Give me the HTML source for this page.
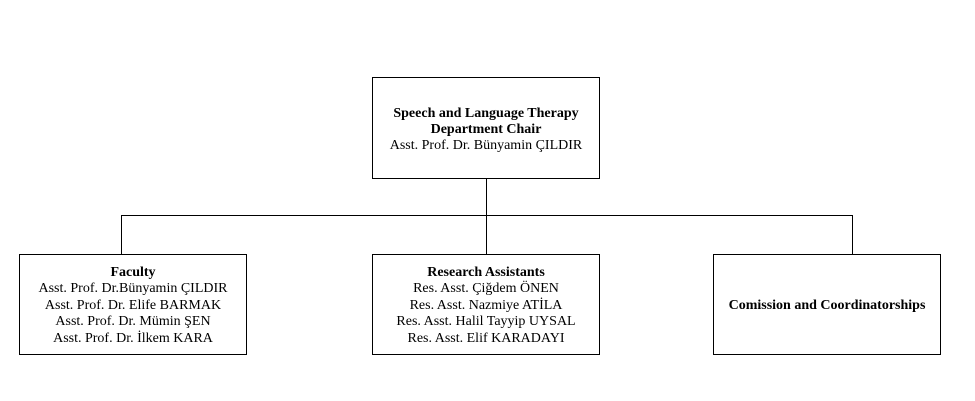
<!DOCTYPE html>
<html><head><style>
body{margin:0;width:975px;height:401px;background:#fff;position:relative;overflow:hidden;font-family:"Liberation Serif",serif;font-size:14px;color:#000}
.b{position:absolute;border:1px solid #000;box-sizing:border-box;display:flex;flex-direction:column;justify-content:center;align-items:center;text-align:center;line-height:16.5px;white-space:nowrap;padding-top:3px}
.l{position:absolute;background:#000}
b{font-weight:bold}
</style></head><body>
<div class="b" style="left:372px;top:77px;width:228px;height:102px;line-height:16px"><b>Speech and Language Therapy</b><b>Department Chair</b><span>Asst. Prof. Dr. Bünyamin ÇILDIR</span></div>
<div class="l" style="left:486px;top:178px;width:1px;height:77px"></div>
<div class="l" style="left:121px;top:215px;width:732px;height:1px"></div>
<div class="l" style="left:121px;top:215px;width:1px;height:40px"></div>
<div class="l" style="left:852px;top:215px;width:1px;height:40px"></div>
<div class="b" style="left:19px;top:254px;width:228px;height:101px"><b>Faculty</b><span>Asst. Prof. Dr.Bünyamin ÇILDIR</span><span>Asst. Prof. Dr. Elife BARMAK</span><span>Asst. Prof. Dr. Mümin ŞEN</span><span>Asst. Prof. Dr. İlkem KARA</span></div>
<div class="b" style="left:372px;top:254px;width:228px;height:101px"><b>Research Assistants</b><span>Res. Asst. Çiğdem ÖNEN</span><span>Res. Asst. Nazmiye ATİLA</span><span>Res. Asst. Halil Tayyip UYSAL</span><span>Res. Asst. Elif KARADAYI</span></div>
<div class="b" style="left:713px;top:254px;width:228px;height:101px"><b>Comission and Coordinatorships</b></div>
</body></html>
